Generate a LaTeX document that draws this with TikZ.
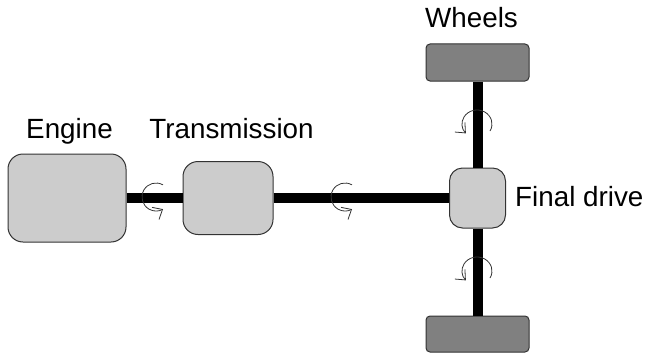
\documentclass[tikz,border=0pt]{standalone}
\usepackage{fontspec}
\setmainfont{Liberation Sans}
\usetikzlibrary{arrows.meta,calc}
\definecolor{boxgray}{HTML}{CCCCCC}
\definecolor{wheelgray}{HTML}{808080}
\definecolor{edgegray}{HTML}{333333}
\tikzset{
  unit/.style={draw=edgegray, line width=1pt, fill=boxgray, rounded corners=15pt, inner sep=0pt},
  wheel/.style={draw=edgegray, line width=1pt, fill=wheelgray, rounded corners=4pt, inner sep=0pt,
                minimum width=103pt},
  shaft/.style={line width=10pt, black},
  spin/.style={draw=edgegray, line width=0.8pt, -{Straight Barb[length=8pt,width=14pt]}},
  lbl/.style={font=\fontsize{27.8}{30}\selectfont, inner sep=0pt}
}
\begin{document}
\begin{tikzpicture}[x=1pt, y=-1pt]
\useasboundingbox (0,0) rectangle (647,353);

% drivetrain units
\node[unit, minimum width=118pt, minimum height=88pt] (engine) at (67,198) {};
\node[unit, minimum width=90pt, minimum height=73pt] (trans) at (228,198) {};
\node[unit, rounded corners=13pt, minimum width=56pt, minimum height=60pt] (final) at (477.5,198) {};
\node[wheel, minimum height=37pt] (wtop) at (477.5,62.5) {};
\node[wheel, minimum height=36pt] (wbot) at (477.5,334) {};

% shafts
\draw[shaft] (engine.east) -- (trans.west);
\draw[shaft] (trans.east) -- (final.west);
\draw[shaft] (wtop.south) -- (final.north);
\draw[shaft] (final.south) -- (wbot.north);

% rotation marks (y axis points down, so angles run clockwise on the page)
\coordinate (r1) at (156,197);
\coordinate (r2) at (345,197);
\coordinate (r3) at (477,124);
\coordinate (r4) at (477,271);
\draw[spin] ($(r1)+(-60:14)$) arc[start angle=-60, end angle=-300, radius=14];
\draw[spin] ($(r2)+(-60:14)$) arc[start angle=-60, end angle=-300, radius=14];
\draw[spin] ($(r3)+(30:15 and 14)$) arc[start angle=30, end angle=-222, x radius=15, y radius=14];
\draw[spin] ($(r4)+(30:15 and 14)$) arc[start angle=30, end angle=-222, x radius=15, y radius=14];

% labels
\node[lbl, anchor=base] (lengine) at (69.5,138.5) {Engine};
\node[lbl, anchor=base] (ltrans) at (231.5,138.5) {Transmission};
\node[lbl, anchor=base] (lwheels) at (471.5,28) {Wheels};
\node[lbl, anchor=base west] (lfinal) at (515,206) {Final drive};
\end{tikzpicture}
\end{document}
